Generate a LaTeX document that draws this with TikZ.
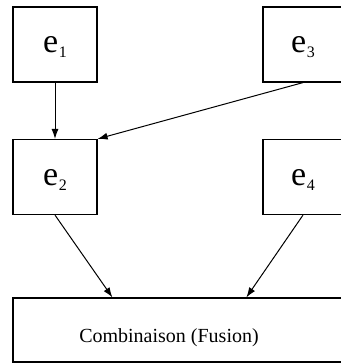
\documentclass[tikz,border=0pt]{standalone}
\usepackage{fontspec}
\setmainfont{Liberation Serif}
\usetikzlibrary{calc,arrows.meta}
\newcommand{\evt}[1]{e\kern0.5pt\raisebox{-5pt}{\fontsize{16}{16}\selectfont #1}}

\begin{document}
\begin{tikzpicture}[x=1pt, y=-1pt,
		box/.style={draw, line width=1.2pt, minimum width=84pt, minimum height=75pt, inner sep=0pt, text depth=0pt, font=\fontsize{34}{34}\selectfont},
		link/.style={line width=1pt, -{Latex[length=10pt,width=7pt]}}]
		%%%%% START %%%%%
		\useasboundingbox (0, 0) rectangle (340, 364);
		
		\node[box] (e1) at (55, 44.5) {\evt{1}};
		\node[box, minimum width=80pt] (e3) at (303, 44.5) {\evt{3}};
		\node[box] (e2) at (55, 177) {\evt{2}};
		\node[box, minimum width=80pt] (e4) at (303, 177) {\evt{4}};
		
		\node[draw, line width=1.2pt, minimum width=337pt, minimum height=64pt, inner sep=0pt] (fusion) at (181.5, 330) {};
		\node[anchor=base, font=\fontsize{20}{20}\selectfont] (fusionlabel) at (169, 342) {Combinaison (Fusion)};
		
		\draw[link] (e1) -- (e2);
		\draw[link] (e3.south) -- (e2.north east);
		\draw[link] (e2.south) -- ($(fusion.north west)+(100, 0)$);
		\draw[link] (e4.south) -- ($(fusion.north west)+(234, 0)$);
		%%%%% END %%%%%
	\end{tikzpicture}
\end{document}
